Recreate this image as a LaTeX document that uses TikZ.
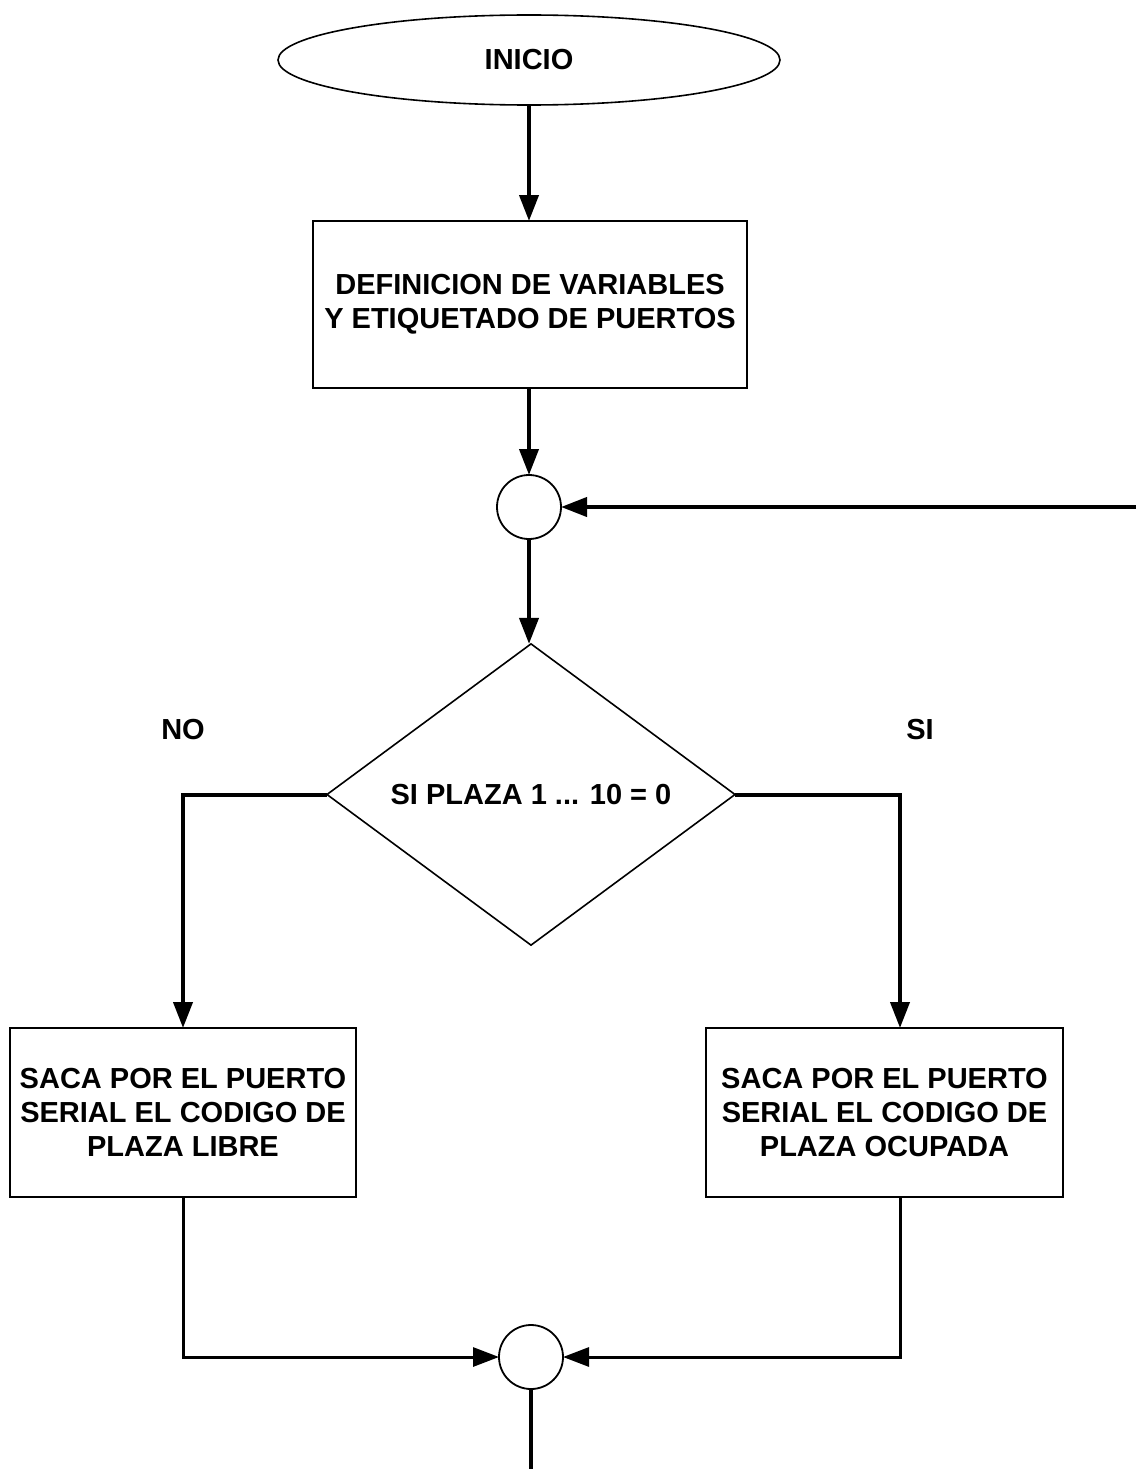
\documentclass[tikz,border=0pt]{standalone}
\usepackage{fontspec}
\setmainfont{Liberation Sans}
\usetikzlibrary{shapes.geometric,arrows.meta}
\tikzset{
  every node/.style={font=\fontsize{29}{34}\selectfont\bfseries, align=center, inner sep=0pt, outer sep=0pt},
  shapebox/.style={draw, line width=1.8pt, rectangle},
  startshape/.style={draw, line width=1.6pt, ellipse},
  joint/.style={draw, line width=1.8pt, circle, minimum size=64pt},
  decision/.style={draw, line width=1.6pt, diamond},
  flow/.style={line width=4pt, -{Triangle[length=26pt,width=19pt]}},
  merge/.style={line width=3pt, -{Triangle[length=26pt,width=19pt]}},
  plain/.style={line width=4pt}
}
\begin{document}
\begin{tikzpicture}[x=1pt,y=-1pt]
\useasboundingbox (0,0) rectangle (1136,1469);
\node[startshape, minimum width=502pt, minimum height=90pt] (start) at (529,60) {INICIO};
\node[shapebox, minimum width=434pt, minimum height=167pt] (def) at (530,304.5) {DEFINICION DE VARIABLES\\Y ETIQUETADO DE PUERTOS};
\node[joint] (j1) at (529,507) {};
\node[decision, minimum width=408pt, minimum height=295pt] (dec) at (531,794.5) {SI PLAZA 1 ... 10 = 0};
\node (no) at (183,730) {NO};
\node (si) at (920,730) {SI};
\node[shapebox, minimum width=346pt, minimum height=169pt] (libre) at (183,1112.5) {SACA POR EL PUERTO\\SERIAL EL CODIGO DE\\PLAZA LIBRE};
\node[shapebox, minimum width=357pt, minimum height=169pt] (ocup) at (884.5,1112.5) {SACA POR EL PUERTO\\SERIAL EL CODIGO DE\\PLAZA OCUPADA};
\node[joint] (j2) at (531,1357) {};
\coordinate (fb) at (1136,507);
\coordinate (fin) at (531,1469);
\coordinate (lx) at (183,0);
\coordinate (rx) at (900,0);

\draw[flow] (start.south) -- (start.south |- def.north);
\draw[flow] (def.south -| j1) -- (j1.north);
\draw[flow] (j1.south) -- (j1.south |- dec.north);
\draw[flow] (fb) -- (j1.east);
\draw[flow] (dec.west) -| (libre.north);
\draw[flow] (dec.east) -| (rx |- ocup.north);
\draw[merge] (libre.south) |- (j2.west);
\draw[merge] (rx |- ocup.south) |- (j2.east);
\draw[plain] (j2.south) -- (fin);
\end{tikzpicture}
\end{document}
